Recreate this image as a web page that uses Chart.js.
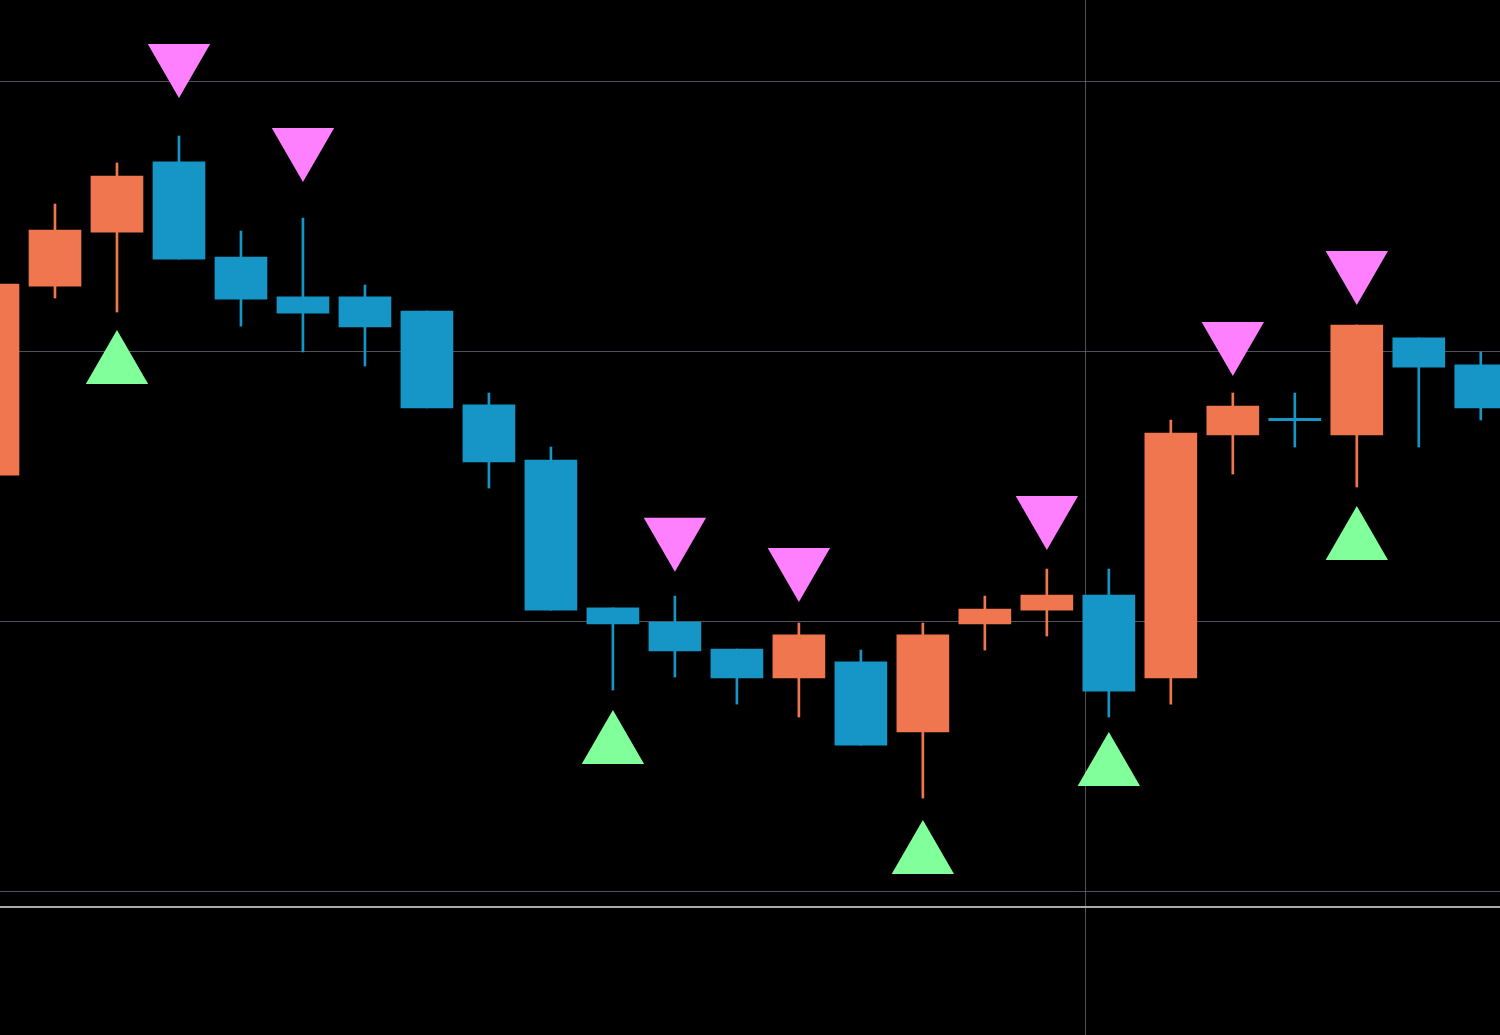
<!DOCTYPE html>
<html>
<head>
<meta charset="utf-8">
<script src="https://cdn.jsdelivr.net/npm/chart.js@4/dist/chart.umd.min.js"></script>
<style>
  html, body { margin: 0; padding: 0; background: #000; }
  #wrap { width: 1500px; height: 1035px; }
</style>
</head>
<body>
<div id="wrap"><canvas id="candles"></canvas></div>
<script>
const opens  = [154.4,224.4,244.4,270.4,235.2,220.4,220.4,215.2,180.4,160.0,105.2,100.0,90.0,79.3,85.2,59.3,99.3,104.4,110.0,79.3,169.3,175.4,169.3,205.2,195.2];
const closes = [225.2,245.2,265.2,234.4,219.6,214.4,209.3,179.3,159.3,104.4,99.3,89.3,79.3,95.2,54.4,95.2,104.8,110.0,74.4,170.0,180.0,174.6,210.0,194.4,179.3];
const highs  = [225.2,254.8,270.0,280.0,244.8,249.6,224.8,215.2,184.8,164.8,105.2,109.6,90.0,99.6,89.6,99.6,109.6,119.6,119.6,174.8,184.8,184.8,210.0,205.2,200.0];
const lows   = [154.4,220.0,214.8,234.4,209.6,200.0,194.8,179.3,149.6,104.4,74.8,79.6,69.6,64.8,54.4,34.8,89.6,94.8,64.8,69.6,154.8,164.8,150.0,164.8,174.8];
const sellIdx = [3,5,11,13,17,20,22];
const sellVal = [307.4,276.3,131.9,120.7,140.0,204.4,230.7];
const buyIdx = [2,10,15,18,22];
const buyVal = [194.8,54.1,13.3,45.9,129.6];
const gridTicks = [0,100,200,300];
const crossX = 17.61;

const UP = '#F07650', DOWN = '#1596C6';
const col = opens.map((o, i) => closes[i] >= o ? UP : DOWN);

const overlay = {
  id: 'overlay',
  beforeDatasetsDraw(chart) {
    const { ctx, chartArea, scales } = chart;
    ctx.save();
    const x = Math.round(scales.x.getPixelForValue(crossX)) + 0.5;
    ctx.strokeStyle = 'rgba(110,115,130,0.7)';
    ctx.lineWidth = 1;
    ctx.beginPath(); ctx.moveTo(x, 0); ctx.lineTo(x, chart.height); ctx.stroke();
    ctx.strokeStyle = '#aaaaaa';
    ctx.lineWidth = 2;
    ctx.beginPath(); ctx.moveTo(0, chartArea.bottom); ctx.lineTo(chart.width, chartArea.bottom); ctx.stroke();
    ctx.restore();
  }
};

new Chart(document.getElementById('candles'), {
  data: {
    datasets: [
      {
        type: 'bar', grouped: false, barThickness: 2,
        data: highs.map((h, i) => ({ x: i, y: [lows[i], h] })),
        backgroundColor: col
      },
      {
        type: 'bar', grouped: false, barThickness: 52,
        data: opens.map((o, i) => ({ x: i, y: [o, closes[i]] })),
        backgroundColor: col
      },
      {
        type: 'scatter',
        data: sellIdx.map((x, k) => ({ x, y: sellVal[k] })),
        pointStyle: 'triangle', rotation: 180, radius: 36,
        backgroundColor: '#FF80FF', borderWidth: 0
      },
      {
        type: 'scatter',
        data: buyIdx.map((x, k) => ({ x, y: buyVal[k] })),
        pointStyle: 'triangle', radius: 36,
        backgroundColor: '#80FF9A', borderWidth: 0
      }
    ]
  },
  options: {
    responsive: true,
    maintainAspectRatio: false,
    animation: false,
    layout: { autoPadding: false, padding: { top: 0, left: 0, right: 0, bottom: 128 } },
    plugins: { legend: { display: false }, tooltip: { enabled: false } },
    scales: {
      x: { type: 'linear', min: 0.113, max: 24.31, offset: false, display: false },
      y: {
        min: -5.56, max: 330.37,
        afterBuildTicks: s => { s.ticks = gridTicks.map(v => ({ value: v })); },
        afterFit: s => { s.width = 0; },
        ticks: { display: false },
        border: { display: false },
        grid: { color: 'rgba(110,115,130,0.7)', drawTicks: false }
      }
    }
  },
  plugins: [overlay]
});
</script>
</body>
</html>
